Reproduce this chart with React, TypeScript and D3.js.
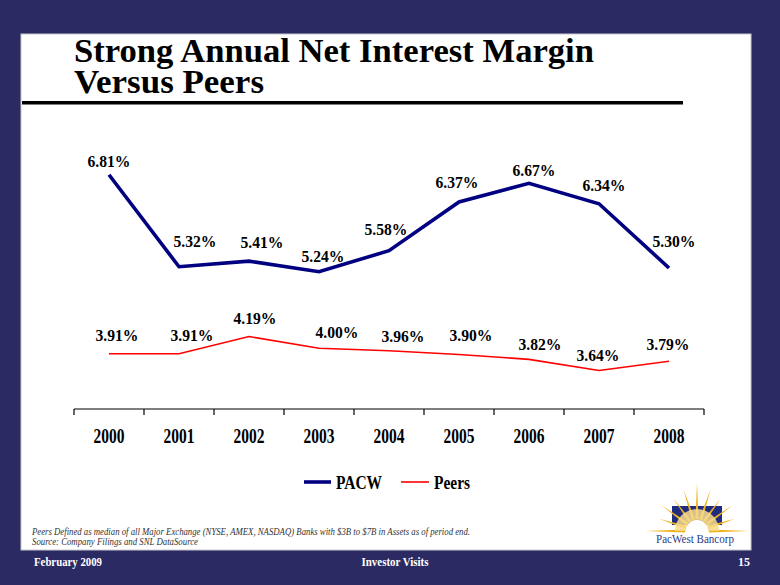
import React from "react";
import * as d3 from "d3";

const years = ["2000", "2001", "2002", "2003", "2004", "2005", "2006", "2007", "2008"];
const pacw = [6.81, 5.32, 5.41, 5.24, 5.58, 6.37, 6.67, 6.34, 5.3];
const peers = [3.91, 3.91, 4.19, 4.0, 3.96, 3.9, 3.82, 3.64, 3.79];
const seriesNames = ["PACW", "Peers"];

// layout: manual label offsets (label centre relative to point)
const pacwLabelDx = [0, 16, 13, 4, -3, -2, 5, 5, 5];
const pacwLabelDy = [-13, -25, -19, -15, -21, -19, -13, -18, -26];
const peersLabelDx = [8, 13, 6, 18, 14, 12, 11, -1, -1];
const peersLabelDy = [-18, -18, -18, -16, -14, -19, -15, -15, -17];

const BG = "#2b2a63";
const NAVY = "#000080";
const RED = "#ff0000";
const SERIF = "'Times New Roman', 'Liberation Serif', serif";

function Logo() {
  const cx = 697;
  const cy = 531;
  const rays: JSX.Element[] = [];
  const n = 11;
  for (let i = 0; i < n; i++) {
    const a = Math.PI - (i * Math.PI) / (n - 1);
    const edge = i === 0 || i === n - 1;
    const len = edge ? 52 : i === 5 ? 48 : i % 2 === 0 ? 44 : 40;
    const w = 0.13;
    const r0 = 12;
    const p1 = [cx + Math.cos(a - w) * r0, cy - Math.sin(a - w) * r0];
    const p2 = [cx + Math.cos(a) * len, cy - Math.sin(a) * len];
    const p3 = [cx + Math.cos(a + w) * r0, cy - Math.sin(a + w) * r0];
    rays.push(
      <polygon
        key={i}
        points={`${p1.join(",")} ${p2.join(",")} ${p3.join(",")}`}
        fill="#f0b31c"
      />
    );
  }
  return (
    <g>
      <rect x={672} y={506} width={50} height={19} fill="#1f2c80" />
      {rays}
      <path d={`M ${cx - 22} ${cy} A 22 22 0 0 1 ${cx + 22} ${cy} Z`} fill="#f8dc8c" opacity={0.85} />
      <path d={`M ${cx - 11} ${cy} A 11 11 0 0 1 ${cx + 11} ${cy} Z`} fill="#ffffff" />
      <text
        x={695}
        y={543}
        textAnchor="middle"
        fontFamily={SERIF}
        fontSize={12}
        fill="#2a3a8a"
        textLength={78}
        lengthAdjust="spacingAndGlyphs"
      >
        PacWest Bancorp
      </text>
    </g>
  );
}

export default function App() {
  const x = d3.scaleBand<string>().domain(years).range([74, 704]).padding(0);
  const y = d3.scaleLinear().domain([3, 7]).range([410, 163]);
  const cxOf = (yr: string) => (x(yr) as number) + x.bandwidth() / 2;

  const line = d3
    .line<number>()
    .x((_, i) => cxOf(years[i]))
    .y((v) => y(v));

  const axisY = 409;
  const boundaries = [...years.map((yr) => x(yr) as number), 704];

  const labelStyle = {
    fontFamily: SERIF,
    fontWeight: "bold" as const,
    fontSize: 16.5,
  };

  return (
    <svg
      width={780}
      height={585}
      style={{ position: "absolute", left: 0, top: 0 }}
    >
      <rect x={0} y={0} width={780} height={585} fill={BG} />
      <rect x={21} y={34} width={730} height={516} fill="#ffffff" stroke="#c8c8d0" strokeWidth={1} />

      {/* Title */}
      <text
        x={74}
        y={62}
        fontFamily={SERIF}
        fontWeight="bold"
        fontSize={34}
        fill="#000"
        textLength={520}
        lengthAdjust="spacingAndGlyphs"
      >
        Strong Annual Net Interest Margin
      </text>
      <text
        x={74}
        y={93}
        fontFamily={SERIF}
        fontWeight="bold"
        fontSize={34}
        fill="#000"
        textLength={190}
        lengthAdjust="spacingAndGlyphs"
      >
        Versus Peers
      </text>
      <rect x={22} y={101} width={661} height={3.5} fill="#000" />

      {/* Axis */}
      <line x1={74} x2={704} y1={axisY} y2={axisY} stroke="#000" strokeWidth={1.2} />
      {boundaries.map((b, i) => (
        <line key={i} x1={b} x2={b} y1={axisY} y2={axisY + 6} stroke="#000" strokeWidth={1.2} />
      ))}
      {years.map((yr) => (
        <text
          key={yr}
          x={cxOf(yr)}
          y={443}
          textAnchor="middle"
          fontFamily={SERIF}
          fontWeight="bold"
          fontSize={20}
          textLength={31}
          lengthAdjust="spacingAndGlyphs"
        >
          {yr}
        </text>
      ))}

      {/* Lines */}
      <path d={line(peers) || ""} fill="none" stroke={RED} strokeWidth={1.6} />
      <path d={line(pacw) || ""} fill="none" stroke={NAVY} strokeWidth={3.6} strokeLinejoin="miter" />

      {/* Labels */}
      {pacw.map((v, i) => (
        <text
          key={"p" + i}
          x={cxOf(years[i]) + pacwLabelDx[i]}
          y={y(v) + pacwLabelDy[i] + 5.5}
          textAnchor="middle"
          textLength={43}
          lengthAdjust="spacingAndGlyphs"
          {...labelStyle}
        >
          {v.toFixed(2)}%
        </text>
      ))}
      {peers.map((v, i) => (
        <text
          key={"q" + i}
          x={cxOf(years[i]) + peersLabelDx[i]}
          y={y(v) + peersLabelDy[i] + 5.5}
          textAnchor="middle"
          textLength={43}
          lengthAdjust="spacingAndGlyphs"
          {...labelStyle}
        >
          {v.toFixed(2)}%
        </text>
      ))}

      {/* Legend */}
      <line x1={304} x2={331} y1={482} y2={482} stroke={NAVY} strokeWidth={3.6} />
      <text
        x={336}
        y={489}
        fontFamily={SERIF}
        fontWeight="bold"
        fontSize={19}
        textLength={46}
        lengthAdjust="spacingAndGlyphs"
      >
        {seriesNames[0]}
      </text>
      <line x1={401} x2={429} y1={482} y2={482} stroke={RED} strokeWidth={1.6} />
      <text
        x={434}
        y={489}
        fontFamily={SERIF}
        fontWeight="bold"
        fontSize={19}
        textLength={36}
        lengthAdjust="spacingAndGlyphs"
      >
        {seriesNames[1]}
      </text>

      {/* Footnotes */}
      <text
        x={32}
        y={535}
        fontFamily={SERIF}
        fontStyle="italic"
        fontSize={10}
        fill="#333"
        textLength={438}
        lengthAdjust="spacingAndGlyphs"
      >
        Peers Defined as median of all Major Exchange (NYSE, AMEX, NASDAQ) Banks with $3B to $7B in Assets as of period end.
      </text>
      <text
        x={32}
        y={545}
        fontFamily={SERIF}
        fontStyle="italic"
        fontSize={10}
        fill="#333"
        textLength={166}
        lengthAdjust="spacingAndGlyphs"
      >
        Source: Company Filings and SNL DataSource
      </text>

      <Logo />

      {/* Footer */}
      <text x={34} y={566} fontFamily={SERIF} fontWeight="bold" fontSize={12} fill="#fff" textLength={68} lengthAdjust="spacingAndGlyphs">
        February 2009
      </text>
      <text x={395} y={566} textAnchor="middle" fontFamily={SERIF} fontWeight="bold" fontSize={12} fill="#fff" textLength={67} lengthAdjust="spacingAndGlyphs">
        Investor Visits
      </text>
      <text x={750} y={566} textAnchor="end" fontFamily={SERIF} fontWeight="bold" fontSize={12} fill="#fff">
        15
      </text>
    </svg>
  );
}
